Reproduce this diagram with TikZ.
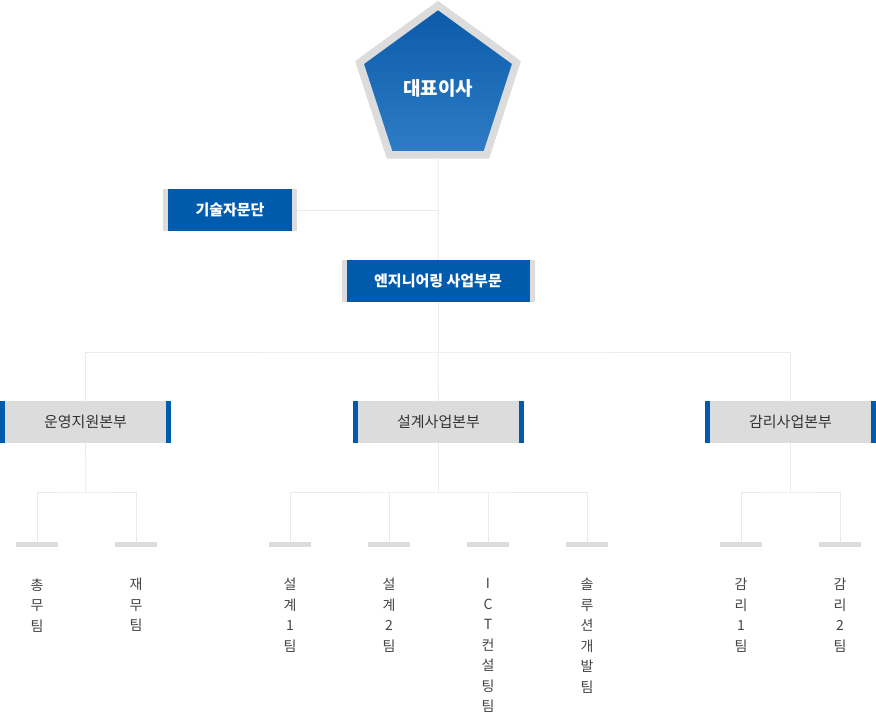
\documentclass[tikz,border=0pt]{standalone}
\usepackage{fontspec}
\setmainfont{Noto Sans CJK KR}
\usetikzlibrary{positioning,shapes.geometric}
\definecolor{kblue}{HTML}{005BAC}
\definecolor{kgray}{HTML}{DCDCDC}
\definecolor{klink}{HTML}{EAEAEA}
\definecolor{ktext}{HTML}{333333}
\definecolor{kteam}{HTML}{444444}
\definecolor{ctop}{HTML}{0A5AAA}
\definecolor{cbot}{HTML}{2F7DC5}

\begin{document}
\begin{tikzpicture}[x=1pt, y=-1pt,
	link/.style={draw=klink, line width=1pt},
	ceo/.style={regular polygon, regular polygon sides=5, minimum size=165pt, inner sep=0pt, draw=kgray, line width=7.5pt, top color=ctop, bottom color=cbot, text=white, font=\bfseries\fontsize{19}{21}\selectfont},
	head/.style={fill=kgray, minimum height=42pt, inner sep=0pt, text=white, font=\bfseries\fontsize{15}{17}\selectfont,
		path picture={\fill[kblue] ([xshift=5pt]path picture bounding box.south west) rectangle ([xshift=-5pt]path picture bounding box.north east);}},
	div/.style={fill=kgray, minimum width=171pt, minimum height=42pt, inner sep=0pt, text=ktext, font=\fontsize{15}{17}\selectfont,
		path picture={\fill[kblue] (path picture bounding box.south west) rectangle ([xshift=5pt]path picture bounding box.north west);
			\fill[kblue] (path picture bounding box.south east) rectangle ([xshift=-5pt]path picture bounding box.north east);}},
	bar/.style={fill=kgray, minimum width=42pt, minimum height=5pt, inner sep=0pt},
	team/.style={below=31pt of #1, anchor=north, inner sep=0pt, align=center, text=kteam, font=\fontsize{14}{20.5}\selectfont}]
	\useasboundingbox (0,0) rectangle (876,716);

	\node[ceo] (ceo) at (438,88) {대표이사};
	\node[head, minimum width=134pt] (adv) at (230,210) {기술자문단};
	\node[head, minimum width=193pt] (eng) at (438,281) {엔지니어링 사업부문};

	\node[div] (ops) at (85.5,422) {운영지원본부};
	\node[div] (des) at (438.5,422) {설계사업본부};
	\node[div] (aud) at (790.5,422) {감리사업본부};

	\node[bar] (t1) at (37,544.5) {};
	\node[bar] (t2) at (136,544.5) {};
	\node[bar] (t3) at (290,544.5) {};
	\node[bar] (t4) at (389,544.5) {};
	\node[bar] (t5) at (488,544.5) {};
	\node[bar] (t6) at (587,544.5) {};
	\node[bar] (t7) at (741,544.5) {};
	\node[bar] (t8) at (840,544.5) {};

	\node[team=t1] (l1) {총\\무\\팀};
	\node[team=t2] (l2) {재\\무\\팀};
	\node[team=t3] (l3) {설\\계\\1\\팀};
	\node[team=t4] (l4) {설\\계\\2\\팀};
	\node[team=t5] (l5) {I\\C\\T\\컨\\설\\팅\\팀};
	\node[team=t6] (l6) {솔\\루\\션\\개\\발\\팀};
	\node[team=t7] (l7) {감\\리\\1\\팀};
	\node[team=t8] (l8) {감\\리\\2\\팀};

	\coordinate (bus) at (438,352);
	\coordinate (opsj) at (86,492);
	\coordinate (desj) at (438.5,492);
	\coordinate (audj) at (790.5,492);

	\draw[link] (ceo) -- (eng);
	\draw[link] (adv) -- (adv -| ceo);
	\draw[link] (eng) -- (bus);
	\draw[link] (ops) |- (bus) -| (aud);
	\draw[link] (bus) -- (des);

	\draw[link] (ops) -- (opsj);
	\draw[link] (t1) |- (opsj) -| (t2);
	\draw[link] (des) -- (desj);
	\draw[link] (t3) |- (desj) -| (t6);
	\draw[link] (t4) -- (t4 |- desj);
	\draw[link] (t5) -- (t5 |- desj);
	\draw[link] (aud) -- (audj);
	\draw[link] (t7) |- (audj) -| (t8);
\end{tikzpicture}
\end{document}
